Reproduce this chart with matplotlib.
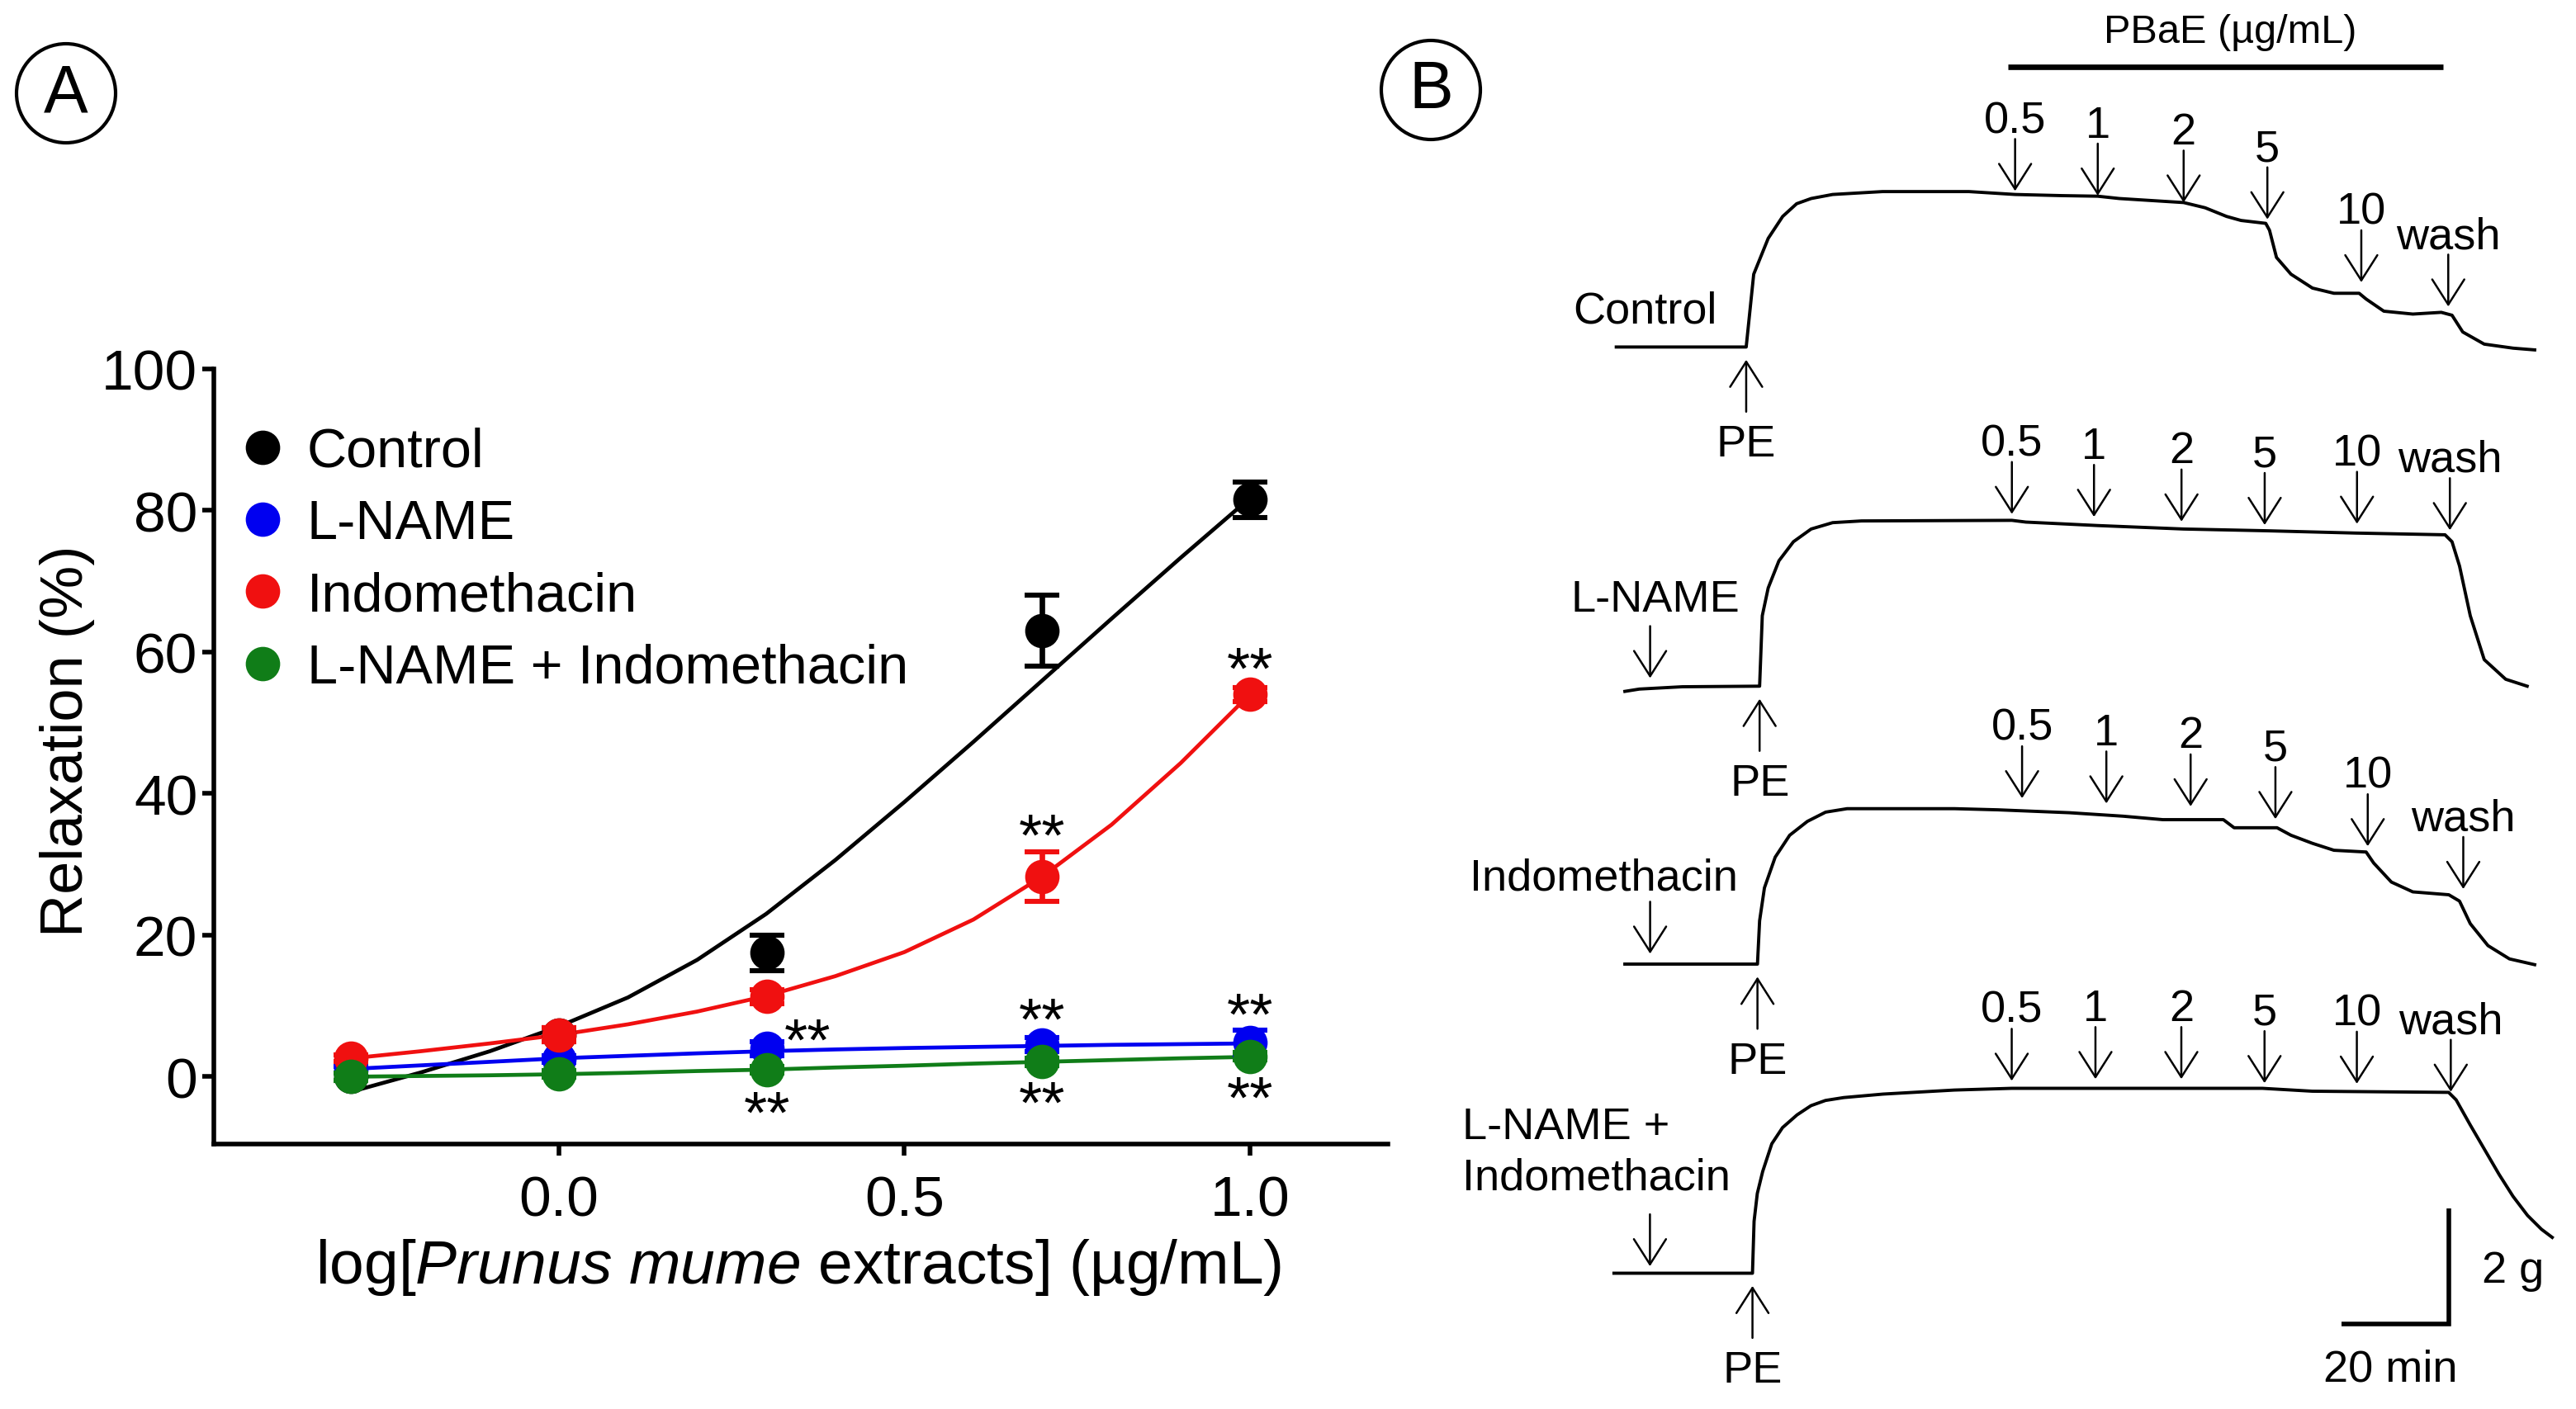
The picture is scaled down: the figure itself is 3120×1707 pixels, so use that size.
import matplotlib
matplotlib.use('Agg')
import matplotlib.pyplot as plt
from matplotlib import font_manager
from matplotlib.lines import Line2D
from matplotlib.patches import Circle
import numpy as np

# ---------------- Panel A data ----------------
log_conc = [-0.301, 0.0, 0.301, 0.699, 1.0]
series_names = ['Control', 'L-NAME', 'Indomethacin', 'L-NAME + Indomethacin']
series_colors = ['#000000', '#0000f0', '#f01010', '#107d18']

control_mean = [0.0, 5.9, 17.5, 63.0, 81.5]
control_sem = [0.5, 1.0, 2.5, 5.0, 2.5]
lname_mean = [1.0, 2.5, 4.0, 4.5, 4.8]
lname_sem = [0.5, 0.5, 1.0, 1.0, 1.8]
indo_mean = [2.6, 5.9, 11.3, 28.3, 54.0]
indo_sem = [0.5, 1.0, 1.0, 3.5, 1.0]
combo_mean = [0.0, 0.4, 1.0, 2.1, 2.9]
combo_sem = [0.5, 0.5, 0.5, 0.5, 0.5]

fit_x = [-0.3, -0.2, -0.1, 0.0, 0.1, 0.2, 0.3, 0.4, 0.5, 0.6, 0.7, 0.8, 0.9, 1.0]
control_fit = [-2.1, 0.6, 3.6, 7.1, 11.2, 16.5, 23.0, 30.6, 38.8, 47.3, 56.0, 64.7, 73.3, 81.7]
lname_fit = [1.1, 1.6, 2.1, 2.6, 2.95, 3.3, 3.6, 3.85, 4.05, 4.2, 4.35, 4.5, 4.6, 4.7]
indo_fit = [2.6, 3.6, 4.7, 5.9, 7.4, 9.2, 11.4, 14.2, 17.6, 22.2, 28.3, 35.6, 44.3, 54.0]
combo_fit = [0.0, 0.1, 0.2, 0.35, 0.55, 0.8, 1.0, 1.3, 1.55, 1.85, 2.1, 2.35, 2.6, 2.8]

# significance marks (x, y of glyph centre)
stars_x = [0.699, 1.0, 0.36, 0.699, 1.0, 0.301, 0.699, 1.0]
stars_y = [35.5, 59.1, 6.6, 9.5, 10.2, -3.6, -2.2, -1.5]

x_ticks = [0.0, 0.5, 1.0]
y_ticks = [0, 20, 40, 60, 80, 100]

# ---------------- Panel B data ----------------
trace_names = ['Control', 'L-NAME', 'Indomethacin', 'L-NAME +\nIndomethacin']
dose_labels = ['0.5', '1', '2', '5', '10', 'wash']

control_t = [-24.2, 0.0, 1.4, 4.1, 6.8, 9.4, 12.1, 16.1, 25.4, 41.5, 50.1, 58.8, 65.5, 69.5,
             81.5, 85.5, 89.5, 92.2, 96.8, 97.5, 98.8, 101.5, 105.5, 109.5, 114.2, 115.5,
             118.8, 124.2, 129.5, 131.5, 133.5, 137.5, 142.9, 146.9]
control_g = [0.0, 0.0, 1.26, 1.88, 2.26, 2.48, 2.57, 2.64, 2.69, 2.69, 2.64, 2.62, 2.61, 2.57,
             2.50, 2.41, 2.26, 2.19, 2.14, 2.02, 1.55, 1.26, 1.02, 0.93, 0.93, 0.83,
             0.62, 0.57, 0.60, 0.55, 0.26, 0.05, -0.02, -0.05]

lname_t = [-25.1, -22.4, -14.4, 0.0, 0.5, 1.6, 3.6, 6.3, 9.6, 13.6, 19.0, 47.0, 49.6, 63.0,
           79.0, 94.3, 111.0, 127.7, 129.0, 130.4, 132.4, 135.0, 139.0, 143.0]
lname_g = [-0.09, -0.05, -0.01, 0.0, 1.22, 1.70, 2.17, 2.50, 2.72, 2.83, 2.86, 2.87, 2.84, 2.78,
           2.72, 2.69, 2.65, 2.62, 2.50, 2.08, 1.22, 0.46, 0.12, 0.0]

indo_t = [-24.7, 0.0, 0.4, 1.3, 3.3, 6.0, 9.3, 12.7, 16.7, 36.7, 44.8, 58.1, 68.1, 75.5, 86.8,
          88.8, 96.8, 99.4, 103.4, 107.4, 113.4, 114.8, 118.1, 122.1, 128.8, 130.8, 132.8,
          136.1, 140.1, 144.8]
indo_g = [0.0, 0.0, 0.75, 1.32, 1.85, 2.23, 2.47, 2.63, 2.69, 2.69, 2.67, 2.62, 2.56, 2.50, 2.50,
          2.36, 2.36, 2.23, 2.09, 1.97, 1.94, 1.75, 1.42, 1.25, 1.20, 1.09, 0.70,
          0.32, 0.09, -0.01]

combo_t = [-25.8, 0.0, 0.3, 0.9, 1.9, 3.6, 5.6, 8.3, 10.9, 13.6, 17.0, 24.3, 37.6, 48.3, 95.0,
           104.3, 129.7, 131.1, 133.7, 136.4, 139.1, 141.7, 144.4, 147.0, 149.0]
combo_g = [0.0, 0.0, 0.90, 1.38, 1.76, 2.24, 2.52, 2.74, 2.90, 2.99, 3.04, 3.10, 3.17, 3.20, 3.20,
           3.15, 3.13, 3.00, 2.57, 2.14, 1.71, 1.33, 1.00, 0.76, 0.62]

control_dose_t = [50.1, 65.5, 81.5, 97.1, 114.6, 130.8]
control_dose_g = [2.70, 2.62, 2.50, 2.21, 1.12, 0.70]
lname_dose_t = [47.0, 62.3, 78.6, 94.1, 111.3, 128.6]
lname_dose_g = [2.98, 2.93, 2.85, 2.79, 2.81, 2.70]
indo_dose_t = [49.3, 65.0, 80.7, 96.5, 113.7, 131.5]
indo_dose_g = [2.87, 2.78, 2.73, 2.51, 2.04, 1.30]
combo_dose_t = [48.3, 63.9, 79.9, 95.4, 112.6, 130.1]
combo_dose_g = [3.33, 3.36, 3.36, 3.29, 3.28, 3.14]

treatment_t = [None, -20.4, -20.0, -19.1]
treatment_g = [None, 0.14, 0.18, 0.12]

scale_minutes = 20
scale_grams = 2

# ---------------- fonts ----------------
available = {f.name for f in font_manager.fontManager.ttflist}
BASE = 'Liberation Sans' if 'Liberation Sans' in available else 'DejaVu Sans'
NARROW = 'Liberation Sans Narrow' if 'Liberation Sans Narrow' in available else BASE
TICK_SIZE = 28 if NARROW != BASE else 25
plt.rcParams['font.family'] = [BASE, 'DejaVu Sans']
plt.rcParams['mathtext.fontset'] = 'custom'
plt.rcParams['mathtext.rm'] = BASE
plt.rcParams['mathtext.it'] = BASE + ':italic'

W, H = 3120, 1708
fig = plt.figure(figsize=(W / 200, H / 200), dpi=200)

# ---------------- Panel A ----------------
axA = fig.add_axes([258.7 / W, 1 - 1386.9 / H, (1681 - 258.7) / W, (1386.9 - 447.7) / H])
means = [control_mean, lname_mean, indo_mean, combo_mean]
sems = [control_sem, lname_sem, indo_sem, combo_sem]
fits = [control_fit, lname_fit, indo_fit, combo_fit]
MS = 14
for i, (m, s, f, c) in enumerate(zip(means, sems, fits, series_colors)):
    axA.plot(fit_x, f, color=c, lw=1.7, zorder=2 + i, solid_capstyle='round',
             solid_joinstyle='round')
    axA.errorbar(log_conc, m, yerr=s, fmt='o', color=c, ms=MS, elinewidth=2.4,
                 capsize=7.5, capthick=2.2, zorder=6 + i, clip_on=False)

for x, y in zip(stars_x, stars_y):
    axA.annotate('**', xy=(x, y), xytext=(0, -13), textcoords='offset points',
                 ha='center', va='baseline', fontsize=26, zorder=20)

axA.set_xlim(-0.5, 1.2)
axA.set_ylim(-9.5, 100)
axA.set_xticks(x_ticks)
axA.set_xticklabels(['%.1f' % v for v in x_ticks])
axA.set_yticks(y_ticks)
for sp in ['top', 'right']:
    axA.spines[sp].set_visible(False)
for sp in ['left', 'bottom']:
    axA.spines[sp].set_linewidth(2.0)
axA.tick_params(axis='both', width=2.0, length=5, labelsize=TICK_SIZE)
axA.tick_params(axis='x', pad=8)
axA.tick_params(axis='y', pad=2)
for lab in axA.get_xticklabels() + axA.get_yticklabels():
    lab.set_fontfamily([NARROW, BASE])

handles = [Line2D([], [], marker='o', ls='none', color=c, ms=MS) for c in series_colors]
axA.legend(handles, series_names, loc='upper left', bbox_to_anchor=(285 / W, 1 - 518 / H),
           bbox_transform=fig.transFigure, frameon=False, fontsize=24, handlelength=1.0,
           handletextpad=0.3, labelspacing=0.38, borderpad=0, borderaxespad=0)

fig.text(82 / W, 1 - 898 / H, 'Relaxation (%)', rotation=90, ha='center', va='center', fontsize=26)
fig.text(967 / W, 1 - 1535 / H, r'log[$\mathit{Prunus\ mume}$ extracts] (µg/mL)',
         ha='center', va='center', fontsize=27)

# ---------------- Panel B ----------------
axB = fig.add_axes([1760 / W, 0, 1360 / W, 1])
axB.set_xlim(-55.7, 153.5)
axB.set_ylim(0, 24.4)
axB.axis('off')

trace_t = [control_t, lname_t, indo_t, combo_t]
trace_g = [control_g, lname_g, indo_g, combo_g]
dose_t = [control_dose_t, lname_dose_t, indo_dose_t, combo_dose_t]
dose_g = [control_dose_g, lname_dose_g, indo_dose_g, combo_dose_g]
t_off = [-1.1, 1.4, 1.0, 0.07]
g_off = [18.38, 12.51, 7.70, 2.35]
name_pos = [(-18.9, 0.62, 'center'), (-19.4, 1.5, 'center'), (-28.6, 1.49, 'center'),
            (-54.1, 2.10, 'left')]

arrow_style = dict(arrowstyle='->,head_length=1.1,head_width=0.7', lw=0.9, color='black',
                   shrinkA=0, shrinkB=0, mutation_scale=10)
ARROW_LEN = 0.9
LABEL_GAP = 1.22
BFS = 19.5

for k in range(4):
    tt = np.array(trace_t[k]) + t_off[k]
    gg = np.array(trace_g[k]) + g_off[k]
    axB.plot(tt, gg, color='black', lw=1.4, solid_joinstyle='round')
    nx, ny, ha = name_pos[k]
    axB.text(nx + t_off[k], ny + g_off[k], trace_names[k], ha=ha, va='center',
             fontsize=BFS, linespacing=1.3)
    axB.annotate('', xy=(t_off[k], g_off[k] - 0.22), xytext=(t_off[k], g_off[k] - 1.12),
                 arrowprops=arrow_style)
    axB.text(t_off[k], g_off[k] - 1.68, 'PE', ha='center', va='center', fontsize=BFS)
    if treatment_t[k] is not None:
        tx = treatment_t[k] + t_off[k]
        ty = treatment_g[k] + g_off[k]
        axB.annotate('', xy=(tx, ty), xytext=(tx, ty + ARROW_LEN), arrowprops=arrow_style)
    for lab, dt, dg in zip(dose_labels, dose_t[k], dose_g[k]):
        x = dt + t_off[k]
        y = dg + g_off[k]
        axB.annotate('', xy=(x, y), xytext=(x, y + ARROW_LEN), arrowprops=arrow_style)
        axB.text(x, y + LABEL_GAP, lab, ha='center', va='center', fontsize=BFS)

# PBaE bar
bar_start = control_dose_t[0] + t_off[0] - 1.4
bar_end = control_dose_t[-1] + t_off[0] - 1.0
axB.plot([bar_start, bar_end], [23.23, 23.23], color='black', lw=2.4, solid_capstyle='butt')
axB.text((bar_start + bar_end) / 2 + 1.0, 23.84, 'PBaE (µg/mL)', ha='center', va='center', fontsize=17.5)

# scale bar
sb_x, sb_y = 129.8, 1.47
axB.plot([sb_x - scale_minutes, sb_x, sb_x], [sb_y, sb_y, sb_y + scale_grams], color='black',
         lw=2.0, solid_joinstyle='miter', solid_capstyle='butt')
axB.text(sb_x + 12.0, sb_y + scale_grams / 2 - 0.07, '%d g' % scale_grams, ha='center', va='center', fontsize=BFS)
axB.text(sb_x - scale_minutes / 2 - 0.8, sb_y - 0.78, '%d min' % scale_minutes, ha='center', va='center', fontsize=BFS)

# panel letters in circles
for (cx, cy), letter in [((80, 114), 'A'), ((1733, 110), 'B')]:
    circ = Circle((cx / 200, (H - cy) / 200), 0.3, transform=fig.dpi_scale_trans,
                  fill=False, lw=1.5, color='black')
    fig.patches.append(circ)
    fig.text(cx / W, 1 - cy / H, letter, ha='center', va='center', fontsize=29)

fig.savefig('out.png', dpi=200)
